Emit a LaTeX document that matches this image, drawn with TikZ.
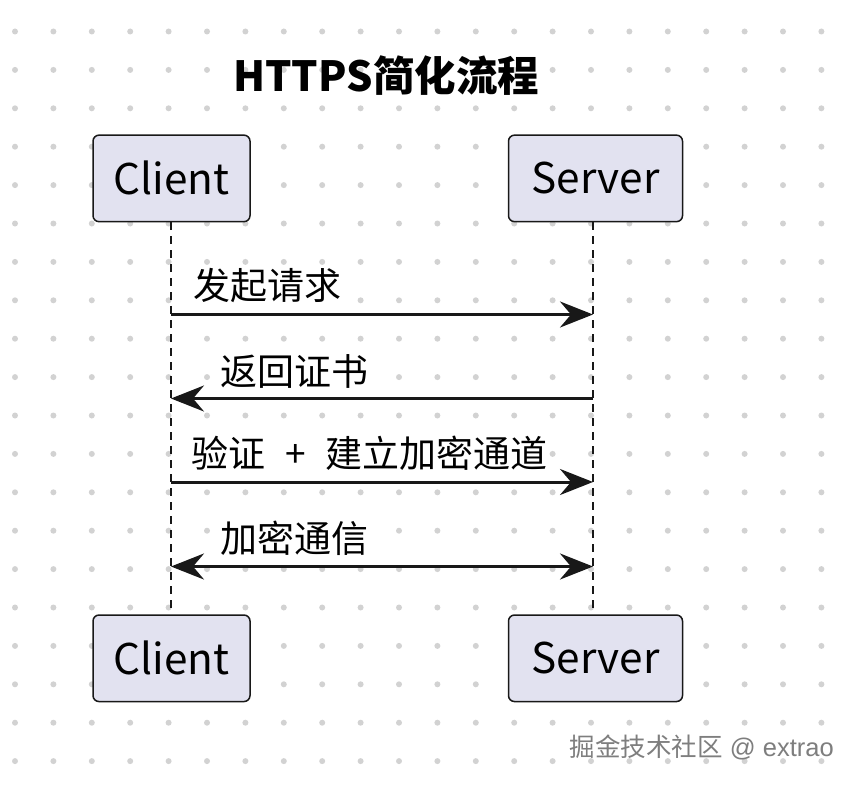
\documentclass[tikz,border=0pt]{standalone}
\usepackage{fontspec}
\setmainfont{Noto Sans CJK SC}
\newfontfamily\wmlatin{Liberation Sans}
\usetikzlibrary{arrows.meta}
\definecolor{boxfill}{HTML}{E2E2F0}
\definecolor{ink}{HTML}{181818}
\definecolor{dotc}{HTML}{D2D2D2}
\definecolor{wmark}{HTML}{7E7E7E}
\begin{document}
\begin{tikzpicture}[x=1pt,y=-1pt,
  part/.style={draw=ink, line width=1.5pt, fill=boxfill, rounded corners=6pt,
    minimum height=86.5pt, inner sep=0pt, font=\fontsize{42.3}{50}\selectfont, text=black},
  msglabel/.style={anchor=west, fill=white, inner sep=1pt, font=\fontsize{37}{44}\selectfont, text=black},
  lifeline/.style={draw=ink, line width=1.1pt, dash pattern=on 8pt off 6pt},
  msg/.style={draw=ink, line width=3pt},
  tip/.tip={Stealth[length=33pt, width=26pt, inset=11pt]}
]
\useasboundingbox (0,0) rectangle (856,784);
\fill[white] (0,0) rectangle (856,784);
% dot grid
\foreach \i in {0,...,21}{
  \foreach \j in {0,...,19}{
    \fill[dotc] (15+38.4*\i, 31.5+38.4*\j) circle (3pt);
  }
}
% title
\node[anchor=base west, inner sep=0pt, font=\fontsize{41.5}{48}\selectfont\bfseries] (title) at (233,92) {HTTPS简化流程};
% lifeline coordinates
\coordinate (cl) at (171,0);
\coordinate (sl) at (593,0);
% participants
\node[part, minimum width=157pt] (c1) at (171.5,178.4) {Client};
\node[part, minimum width=174pt] (s1) at (595.5,178.4) {Server};
\node[part, minimum width=157pt] (c2) at (171.5,658.3) {Client};
\node[part, minimum width=174pt] (s2) at (595.5,658.3) {Server};
% lifelines
\draw[lifeline] (c1.south -| cl) -- (c2.north -| cl);
\draw[lifeline] (s1.south -| sl) -- (s2.north -| sl);
% message end points
\coordinate (m1a) at (171,314.5); \coordinate (m1b) at (593,314.5);
\coordinate (m2a) at (171,398.5); \coordinate (m2b) at (593,398.5);
\coordinate (m3a) at (171,482); \coordinate (m3b) at (593,482);
\coordinate (m4a) at (171,566.5); \coordinate (m4b) at (593,566.5);
% labels
\node[msglabel] (l1) at (192,285.5) {发起请求};
\node[msglabel] (l2) at (219,371) {返回证书};
\node[msglabel] (l3) at (190,453.5) {验证\hspace{0.54em}+\hspace{0.54em}建立加密通道};
\node[msglabel] (l4) at (219,538) {加密通信};
% messages
\draw[msg, -tip] (m1a) -- (m1b);
\draw[msg, -tip] (m2b) -- (m2a);
\draw[msg, -tip] (m3a) -- (m3b);
\draw[msg, tip-tip] (m4a) -- (m4b);
% watermark
\node[anchor=east, inner sep=0pt, text=wmark, font=\fontsize{25.5}{30}\selectfont] (wm) at (834,747) {掘金技术社区{\wmlatin\ @ extrao}};
\end{tikzpicture}
\end{document}
